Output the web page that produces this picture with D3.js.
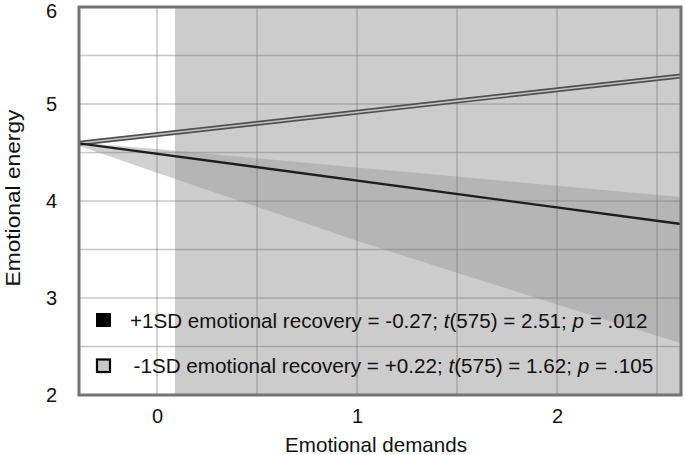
<!DOCTYPE html>
<html>
<head>
<meta charset="utf-8">
<script src="https://cdn.jsdelivr.net/npm/d3@7"></script>
<style>
  html, body { margin: 0; padding: 0; background: #ffffff; }
  svg { display: block; font-family: "Liberation Sans", Arial, sans-serif; }
</style>
</head>
<body>
<svg id="chart" width="685" height="455"></svg>
<script>
// ---- data ----
const xDomain = [-0.39, 2.62];
const yDomain = [2, 6];
const xTickValues = [0, 1, 2];
const yTickValues = [2, 3, 4, 5, 6];
const xGridValues = [0, 0.5, 1, 1.5, 2, 2.5];
const yGridValues = [2.5, 3, 3.5, 4, 4.5, 5, 5.5];
const regionStart = 0.09; // shaded region of significance starts here
const lineX = [-0.39, 2.62];
const highRecovery = [4.595, 3.763];  // +1SD emotional recovery
const lowRecovery = [4.595, 5.289];   // -1SD emotional recovery
const bandX = [-0.39, 0, 0.5, 1, 1.5, 2, 2.62];
const bandUpper = [4.60, 4.535, 4.44, 4.346, 4.252, 4.158, 4.041];
const bandLower = [4.57, 4.29, 3.94, 3.59, 3.26, 2.934, 2.533];
const legendLabels = [
  ["+1SD emotional recovery = -0.27; ", "t", "(575) = 2.51; ", "p", " = .012"],
  ["-1SD emotional recovery = +0.22; ", "t", "(575) = 1.62; ", "p", " = .105"]
];
const xTitle = "Emotional demands";
const yTitle = "Emotional energy";

// ---- layout ----
const svg = d3.select("#chart");
const L = 79, R = 681, T = 7, B = 395;
const x = d3.scaleLinear().domain(xDomain).range([L, R]);
const y = d3.scaleLinear().domain(yDomain).range([B, T]);

svg.append("defs").append("clipPath").attr("id", "clip")
  .append("rect").attr("x", L).attr("y", T).attr("width", R - L).attr("height", B - T);

const plot = svg.append("g").attr("clip-path", "url(#clip)");

// shaded region
plot.append("rect")
  .attr("x", x(regionStart)).attr("y", T)
  .attr("width", R - x(regionStart)).attr("height", B - T)
  .attr("fill", "#cccccc");

// confidence wedge
const bandData = bandX.map((v, i) => ({x: v, lo: bandLower[i], hi: bandUpper[i]}));
plot.append("path")
  .datum(bandData)
  .attr("d", d3.area().x(d => x(d.x)).y0(d => y(d.lo)).y1(d => y(d.hi)))
  .attr("fill", "#9b9b9b").attr("fill-opacity", 0.47);

// gridlines
plot.selectAll(".vg").data(xGridValues).enter().append("line")
  .attr("x1", d => x(d)).attr("x2", d => x(d)).attr("y1", T).attr("y2", B)
  .attr("stroke", "#7a7a7a").attr("stroke-opacity", 0.42).attr("stroke-width", 1.6);
plot.selectAll(".hg").data(yGridValues).enter().append("line")
  .attr("y1", d => y(d)).attr("y2", d => y(d)).attr("x1", L).attr("x2", R)
  .attr("stroke", "#7a7a7a").attr("stroke-opacity", 0.42).attr("stroke-width", 1.6);

// lines
const line = d3.line().x(d => x(d[0])).y(d => y(d[1]));
const lowPts = lineX.map((v, i) => [v, lowRecovery[i]]);
const highPts = lineX.map((v, i) => [v, highRecovery[i]]);
plot.append("path").attr("d", line(lowPts)).attr("fill", "none")
  .attr("stroke", "#505050").attr("stroke-width", 5);
plot.append("path").attr("d", line(lowPts)).attr("fill", "none")
  .attr("stroke", "#c4c4c4").attr("stroke-width", 1.6);
plot.append("path").attr("d", line(highPts)).attr("fill", "none")
  .attr("stroke", "#1e1e1e").attr("stroke-width", 2.3);

// border
svg.append("rect").attr("x", L).attr("y", T).attr("width", R - L).attr("height", B - T)
  .attr("fill", "none").attr("stroke", "#737373").attr("stroke-width", 3);

// axes
const fs = 20;
const yAxis = svg.append("g").attr("transform", `translate(${L},0)`)
  .call(d3.axisLeft(y).tickValues(yTickValues).tickFormat(d3.format("d")).tickSize(0).tickPadding(22));
const xAxis = svg.append("g").attr("transform", `translate(0,${B})`)
  .call(d3.axisBottom(x).tickValues(xTickValues).tickFormat(d3.format("d")).tickSize(0).tickPadding(14));
[yAxis, xAxis].forEach(a => {
  a.select(".domain").remove();
  a.selectAll("text").attr("font-size", fs).attr("fill", "#111")
    .attr("font-family", "'Liberation Sans', Arial, sans-serif");
});
// keep the top label inside the page
yAxis.selectAll(".tick").filter(d => d === 6).select("text").attr("dy", "0.5em");

function stretchFactor(sel, target) {
  return target / sel.node().getComputedTextLength();
}

// x title
const xt = svg.append("text").text(xTitle)
  .attr("font-size", fs).attr("fill", "#111").attr("text-anchor", "middle");
xt.attr("transform", `translate(376,451.5) scale(${stretchFactor(xt, 182)},1)`);

// y title
const yt = svg.append("text").text(yTitle)
  .attr("font-size", fs).attr("fill", "#111").attr("text-anchor", "middle");
yt.attr("transform", `translate(20,198) rotate(-90) scale(${stretchFactor(yt, 177)},1)`);

// legend
const legY = [328.3, 372.7];
const legX = [130, 133.5];
const legW = [518, 520];
svg.append("rect").attr("x", 96).attr("y", 313).attr("width", 15).attr("height", 14)
  .attr("fill", "#000");
svg.append("rect").attr("x", 97).attr("y", 359.5).attr("width", 13).attr("height", 12.5)
  .attr("fill", "#c8c8c8").attr("stroke", "#000").attr("stroke-width", 2.2);
legendLabels.forEach((parts, i) => {
  const t = svg.append("text").attr("font-size", 19.5).attr("fill", "#111")
    .style("white-space", "pre");
  parts.forEach((p, j) => {
    const ts = t.append("tspan").text(p);
    if (j === 1 || j === 3) ts.attr("font-style", "italic");
  });
  t.attr("transform", `translate(${legX[i]},${legY[i]}) scale(${stretchFactor(t, legW[i])},1)`);
});
</script>
</body>
</html>
